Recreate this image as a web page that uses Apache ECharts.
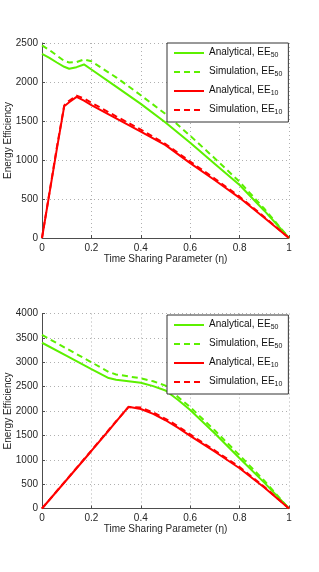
<!DOCTYPE html>
<html>
<head>
<meta charset="utf-8">
<script src="https://cdn.jsdelivr.net/npm/echarts@6/dist/echarts.min.js"></script>
<style>
html,body{margin:0;padding:0;background:#fff;}
#c{width:319px;height:572px;}
</style>
</head>
<body>
<div id="c"></div>
<script>
// ---- Top panel data ----
var etaTop   = [0, 0.03, 0.06, 0.09, 0.11, 0.14, 0.17, 0.2, 0.3, 0.4, 0.5, 0.6, 0.7, 0.8, 0.9, 1];
var anaEE50Top = [2360, 2310, 2250, 2195, 2170, 2190, 2225, 2160, 1940, 1720, 1480, 1220, 950, 680, 350, 0];
var simEE50Top = [2470, 2410, 2340, 2270, 2250, 2255, 2290, 2265, 2060, 1830, 1590, 1310, 1020, 720, 375, 0];
var anaEE10Top = [0, 570, 1140, 1690, 1740, 1810, 1760, 1705, 1535, 1365, 1190, 960, 740, 515, 260, 0];
var simEE10Top = [0, 580, 1160, 1700, 1760, 1825, 1790, 1735, 1560, 1390, 1205, 980, 760, 530, 270, 0];

// ---- Bottom panel data ----
var etaBot   = [0, 0.1, 0.2, 0.27, 0.3, 0.35, 0.4, 0.45, 0.5, 0.55, 0.6, 0.7, 0.8, 0.9, 1];
var anaEE50Bot = [3400, 3130, 2860, 2675, 2640, 2610, 2580, 2510, 2420, 2230, 2020, 1540, 1030, 530, 0];
var simEE50Bot = [3560, 3280, 3000, 2800, 2750, 2710, 2670, 2610, 2520, 2290, 2080, 1600, 1090, 570, 0];
var anaEE10Bot = [0, 590, 1180, 1600, 1780, 2085, 2040, 1940, 1810, 1660, 1490, 1165, 825, 430, 0];
var simEE10Bot = [0, 595, 1190, 1610, 1790, 2080, 2070, 1970, 1840, 1690, 1520, 1190, 850, 445, 0];

// ---- Labels ----
var seriesNames = ['Analytical, EE50', 'Simulation, EE50', 'Analytical, EE10', 'Simulation, EE10'];
var xTitle = 'Time Sharing Parameter (\u03b7)';
var yTitle = 'Energy Efficiency';

var GREEN = '#5cf000', RED = '#ff0000';
var FONT = 'Liberation Sans, Arial, Helvetica, sans-serif';
var FS = 10;

function pairs(xs, ys){ return xs.map(function(x,i){ return [x, ys[i]]; }); }

function mkSeries(name, xs, ys, color, dashed, gi){
  return {
    type: 'line', name: name, xAxisIndex: gi, yAxisIndex: gi,
    data: pairs(xs, ys), showSymbol: false, symbol: 'none', smooth: false,
    animation: false,
    lineStyle: { color: color, width: 2, type: dashed ? [6, 4] : 'solid' },
    itemStyle: { color: color }
  };
}

function xAx(gi){
  return {
    type: 'value', gridIndex: gi, min: 0, max: 1, interval: 0.2,
    name: xTitle, nameLocation: 'middle', nameGap: 16, nameMoveOverlap: false,
    nameTextStyle: { fontFamily: FONT, fontSize: FS, color: '#262626' },
    axisLine: { show: true, lineStyle: { color: '#4d4d4d', width: 1 } },
    axisTick: { show: true, inside: true, length: 3, lineStyle: { color: '#4d4d4d' } },
    axisLabel: { fontFamily: FONT, fontSize: FS, color: '#262626', margin: 5,
      formatter: function(v){ return (v === 0 || v === 1) ? String(v) : v.toFixed(1); } },
    splitLine: { show: true, lineStyle: { color: '#b0b0b0', width: 1, type: [1, 3] } }
  };
}
function yAx(gi, max){
  return {
    type: 'value', gridIndex: gi, min: 0, max: max, interval: 500,
    name: yTitle, nameLocation: 'middle', nameGap: 29, nameRotate: 90, nameMoveOverlap: false,
    nameTextStyle: { fontFamily: FONT, fontSize: FS, color: '#262626' },
    axisLine: { show: true, lineStyle: { color: '#4d4d4d', width: 1 } },
    axisTick: { show: true, inside: true, length: 3, lineStyle: { color: '#4d4d4d' } },
    axisLabel: { fontFamily: FONT, fontSize: FS, color: '#262626', margin: 4,
      formatter: function(v){ return String(v); } },
    splitLine: { show: true, lineStyle: { color: '#b0b0b0', width: 1, type: [1, 3] } }
  };
}
function legend(top){
  return {
    orient: 'vertical', left: 167, top: top,
    data: seriesNames,
    itemWidth: 30, itemHeight: 12, itemGap: 7,
    padding: [4, 6, 6, 6],
    backgroundColor: '#fff', borderColor: '#333', borderWidth: 1,
    selectedMode: false,
    itemStyle: { opacity: 0 },
    textStyle: {
      fontFamily: FONT, fontSize: FS, color: '#111',
      rich: {
        a: { fontFamily: FONT, fontSize: FS, color: '#111', verticalAlign: 'top', lineHeight: 12 },
        s: { fontFamily: FONT, fontSize: 7, color: '#111', verticalAlign: 'top', lineHeight: 10, padding: [5, 0, 0, 0] }
      }
    },
    formatter: function(n){
      var m = n.match(/^(.*EE)(\d+)$/);
      return '{a|' + m[1] + '}{s|' + m[2] + '}';
    }
  };
}

var chart = echarts.init(document.getElementById('c'), null, { renderer: 'canvas' });
chart.setOption({
  backgroundColor: '#fff',
  animation: false,
  grid: [
    { left: 42, top: 43, width: 247, height: 195, outerBoundsMode: 'none', containLabel: false },
    { left: 42, top: 313.5, width: 247, height: 195, outerBoundsMode: 'none', containLabel: false }
  ],
  xAxis: [xAx(0), xAx(1)],
  yAxis: [yAx(0, 2500), yAx(1, 4000)],
  legend: [legend(43), legend(315)],
  series: [
    mkSeries(seriesNames[0], etaTop, anaEE50Top, GREEN, false, 0),
    mkSeries(seriesNames[1], etaTop, simEE50Top, GREEN, true, 0),
    mkSeries(seriesNames[2], etaTop, anaEE10Top, RED, false, 0),
    mkSeries(seriesNames[3], etaTop, simEE10Top, RED, true, 0),
    mkSeries(seriesNames[0], etaBot, anaEE50Bot, GREEN, false, 1),
    mkSeries(seriesNames[1], etaBot, simEE50Bot, GREEN, true, 1),
    mkSeries(seriesNames[2], etaBot, anaEE10Bot, RED, false, 1),
    mkSeries(seriesNames[3], etaBot, simEE10Bot, RED, true, 1)
  ]
});
</script>
</body>
</html>
